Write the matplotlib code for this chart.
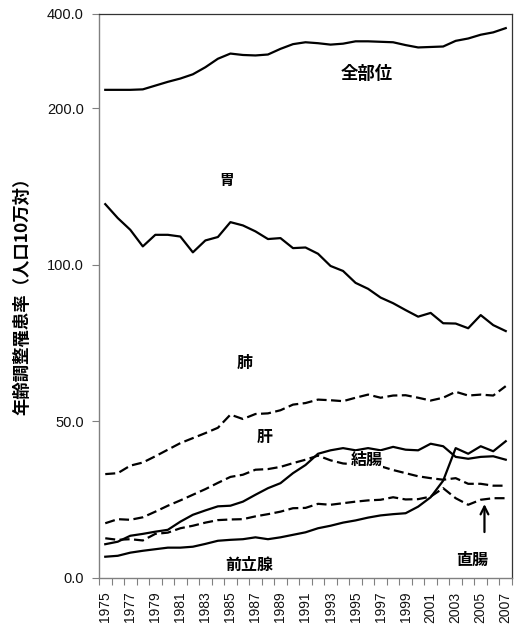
import numpy as np
import matplotlib
matplotlib.use("Agg")
import matplotlib.pyplot as plt

plt.rcParams['font.family'] = ['Liberation Sans', 'Noto Sans CJK JP', 'DejaVu Sans']

years = list(range(1975, 2008))

all_sites = [239, 239, 239, 240, 248, 256, 263, 272, 287, 305, 316, 313, 312, 314, 326, 336,
             340, 338, 335, 337, 342, 342, 341, 340, 334, 329, 330, 331, 343, 348, 356, 361, 370]
stomach = [138.7, 129.8, 122.3, 111.7, 119.1, 119.1, 118.0, 107.9, 115.5, 117.7, 127.2, 125.1,
           121.3, 116.4, 117.0, 110.6, 111.0, 107.0, 99.6, 98.0, 94.2, 92.3, 89.5, 87.7, 85.5,
           83.4, 84.6, 81.3, 81.2, 79.7, 83.9, 80.7, 78.8]
lung = [33.1, 33.4, 35.8, 36.8, 38.8, 40.9, 43.0, 44.6, 46.2, 47.9, 52.1, 50.7, 52.3, 52.5, 53.5,
        55.3, 55.8, 56.9, 56.7, 56.4, 57.5, 58.5, 57.5, 58.2, 58.3, 57.5, 56.6, 57.5, 59.4, 58.2,
        58.5, 58.2, 61.2]
liver = [17.4, 18.7, 18.5, 19.3, 21.1, 23.0, 24.7, 26.5, 28.3, 30.3, 32.2, 32.9, 34.5, 34.7, 35.4,
         36.6, 37.7, 39.0, 37.5, 36.5, 36.2, 36.0, 35.6, 34.4, 33.4, 32.4, 31.8, 31.3, 31.8, 30.0,
         30.0, 29.4, 29.4]
colon = [10.7, 11.5, 13.4, 14.0, 14.7, 15.3, 17.9, 20.1, 21.5, 22.8, 23.0, 24.3, 26.5, 28.6, 30.2,
         33.4, 36.0, 39.6, 40.7, 41.4, 40.7, 41.4, 40.7, 41.8, 40.9, 40.7, 42.8, 42.0, 38.6, 38.0,
         38.6, 38.8, 37.7]
rectum = [12.6, 12.1, 12.3, 11.9, 14.0, 14.4, 15.8, 16.6, 17.6, 18.4, 18.6, 18.7, 19.6, 20.3, 21.1,
          22.2, 22.3, 23.6, 23.3, 23.8, 24.3, 24.7, 24.9, 25.7, 25.0, 25.1, 25.9, 28.6, 25.4, 23.3,
          24.9, 25.4, 25.4]
prostate = [6.7, 7.0, 8.0, 8.6, 9.1, 9.6, 9.6, 9.9, 10.8, 11.8, 12.1, 12.3, 12.9, 12.3, 12.9,
            13.7, 14.5, 15.8, 16.6, 17.6, 18.3, 19.2, 19.9, 20.3, 20.6, 22.7, 25.7, 31.0, 41.4,
            39.6, 42.0, 40.4, 43.6]

ytick_vals = [0, 50, 100, 200, 400]
ytick_labels = ["0.0", "50.0", "100.0", "200.0", "400.0"]
xtick_label_years = list(range(1975, 2008, 2))

# piecewise axis (broken-style scale)
_bp_v = np.array([0.0, 50.0, 100.0, 200.0, 400.0])
_bp_s = np.array([0.0, 1.0, 2.0, 3.0, 3.602])

def fwd(v):
    v = np.asarray(v, dtype=float)
    return np.interp(v, _bp_v, _bp_s)

def inv(s):
    s = np.asarray(s, dtype=float)
    return np.interp(s, _bp_s, _bp_v)

fig = plt.figure(figsize=(5.16, 6.28), dpi=100)
ax = fig.add_axes([99/516, 1 - 577.7/628, (512 - 99)/516, (577.7 - 14)/628])
ax.set_yscale('function', functions=(fwd, inv))

lw = 1.6
dash = (0, (4.5, 2.0))
ax.plot(years, all_sites, color='black', lw=lw, solid_joinstyle='round')
ax.plot(years, stomach, color='black', lw=lw)
ax.plot(years, lung, color='black', lw=lw, linestyle=dash)
ax.plot(years, liver, color='black', lw=lw, linestyle=dash)
ax.plot(years, rectum, color='black', lw=lw, linestyle=dash)
ax.plot(years, colon, color='black', lw=lw)
ax.plot(years, prostate, color='black', lw=lw)

ax.set_xlim(1974.5, 2007.5)
ax.set_ylim(0, 400)

# y ticks
ax.set_yticks(ytick_vals)
ax.set_yticklabels(ytick_labels)
ax.yaxis.set_minor_locator(matplotlib.ticker.NullLocator())
ax.tick_params(axis='y', direction='out', length=5, width=0.8, color='#808080',
               labelsize=10.5, pad=6, labelcolor='#111111')

# x ticks: boundaries as major ticks (no labels), labels as minor ticks (no marks)
bounds = [y - 0.5 for y in years] + [years[-1] + 0.5]
ax.set_xticks(bounds)
ax.set_xticklabels([''] * len(bounds))
ax.set_xticks(xtick_label_years, [str(y) for y in xtick_label_years], minor=True)
ax.tick_params(axis='x', which='major', direction='out', length=5, width=0.8, color='#808080')
ax.tick_params(axis='x', which='minor', length=0, labelsize=10, pad=10, labelrotation=90,
               labelcolor='#111111')

for s in ['left', 'bottom']:
    ax.spines[s].set_color('#808080')
    ax.spines[s].set_linewidth(1.0)
for s in ['top', 'right']:
    ax.spines[s].set_color('#333333')
    ax.spines[s].set_linewidth(0.9)

ax.set_ylabel('年齢調整罹患率（人口10万対）', fontsize=12.5, fontweight='bold',
              family=['Noto Sans CJK JP', 'DejaVu Sans'])
ax.yaxis.set_label_coords((31 - 99) / 413, (577.7 - 292) / (577.7 - 14))

lab = dict(fontweight='bold', ha='center', va='center', family=['Noto Sans CJK JP', 'DejaVu Sans'])
ax.text(1995.9, 273, '全部位', fontsize=12.5, **lab)
ax.text(1984.7, 154, '胃', fontsize=10.5, **lab)
ax.text(1986.1, 68.7, '肺', fontsize=11.5, **lab)
ax.text(1987.7, 45.0, '肝', fontsize=11.5, **lab)
ax.text(1995.9, 37.7, '結腸', fontsize=11.5, zorder=5,
        bbox=dict(facecolor='white', edgecolor='none', pad=0.5), **lab)
ax.text(1986.5, 4.1, '前立腺', fontsize=11.5, **lab)
ax.text(2004.3, 5.7, '直腸', fontsize=11.5, **lab)
ax.annotate('', xy=(2005.3, 24.4), xytext=(2005.3, 13.7),
            arrowprops=dict(arrowstyle='->', lw=1.6, color='black', mutation_scale=14))

fig.savefig('out.png', dpi=100)
